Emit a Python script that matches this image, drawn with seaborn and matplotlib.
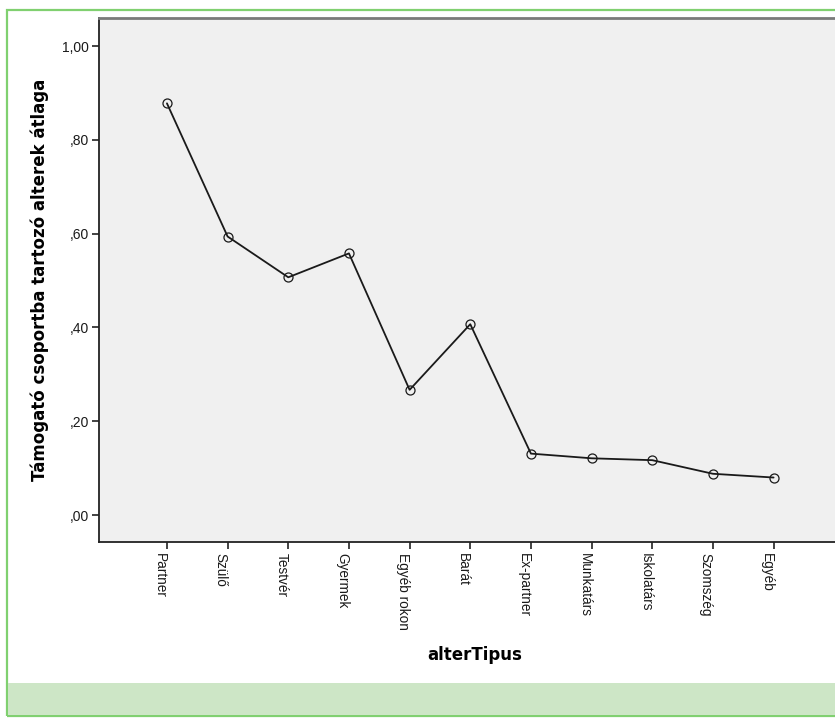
import matplotlib
matplotlib.use("Agg")
import matplotlib.pyplot as plt
import seaborn as sns
import pandas as pd
from matplotlib.patches import Rectangle

categories = ["Partner", "Szülő", "Testvér", "Gyermek", "Egyéb rokon", "Barát",
              "Ex-partner", "Munkatárs", "Iskolatárs", "Szomszég", "Egyéb"]
values = [0.878, 0.594, 0.507, 0.558, 0.267, 0.407, 0.131, 0.121, 0.117, 0.088, 0.080]
ytick_values = [0.0, 0.2, 0.4, 0.6, 0.8, 1.0]
ytick_labels = [",00", ",20", ",40", ",60", ",80", "1,00"]

sns.set_theme(style="white")
plt.rcParams["font.family"] = ["Liberation Sans", "DejaVu Sans"]

W, H = 835, 718
fig = plt.figure(figsize=(W / 100, H / 100), dpi=100)
fig.patch.set_facecolor("white")

# frame: green border + bottom band
fig.add_artist(Rectangle((7 / W, 1 - 716 / H), 2.0, (716 - 10) / H, transform=fig.transFigure,
                         facecolor="none", edgecolor="#80d070", linewidth=1.6, zorder=0))
fig.add_artist(Rectangle((8 / W, 1 - 715 / H), 2.0, (715 - 683) / H, transform=fig.transFigure,
                         facecolor="#cde6c6", edgecolor="none", zorder=0))

ax = fig.add_axes([99 / W, 1 - 542 / H, (W - 99) / W + 0.01, (542 - 18) / H])
ax.set_facecolor("#f0f0f0")

df = pd.DataFrame({"alterTipus": categories, "mean": values})
sns.lineplot(data=df, x="alterTipus", y="mean", sort=False, ax=ax, color="#1a1a1a",
             linewidth=1.3, marker="o", markersize=6.5, markerfacecolor="none",
             markeredgecolor="#1a1a1a", markeredgewidth=0.9)

ax.set_xlim(-1.12, 11.15)
ax.set_ylim(-0.0575, 1.06)
ax.set_yticks(ytick_values)
ax.set_yticklabels(ytick_labels, fontsize=10, color="#1a1a1a")
ax.set_xticks(range(len(categories)))
ax.set_xticklabels(categories, rotation=-90, ha="right", va="top", fontsize=9.8,
                   color="#1a1a1a")

ax.tick_params(axis="both", which="major", direction="out", length=5, width=1.2,
               color="#222222", left=True, bottom=True, pad=2)
ax.tick_params(axis="x", pad=3)

for s in ["left", "bottom"]:
    ax.spines[s].set_color("#222222")
    ax.spines[s].set_linewidth(1.3)
ax.spines["top"].set_color("#7a7a7a")
ax.spines["top"].set_linewidth(2.0)
ax.spines["right"].set_visible(False)

ax.set_ylabel("Támogató csoportba tartozó alterek átlaga", fontsize=12, fontweight="bold",
              family="DejaVu Sans", color="#000000")
ax.yaxis.set_label_coords((40 - 99) / (W - 99), 0.5)
ax.yaxis.label.set_va("center")
ax.set_xlabel("alterTipus", fontsize=12, fontweight="bold", family="DejaVu Sans",
              color="#000000")
ax.xaxis.set_label_coords((470 - 99) / (W - 99), -(655 - 542) / (542 - 18))
ax.xaxis.label.set_va("center")

fig.savefig("out.png", dpi=100)
